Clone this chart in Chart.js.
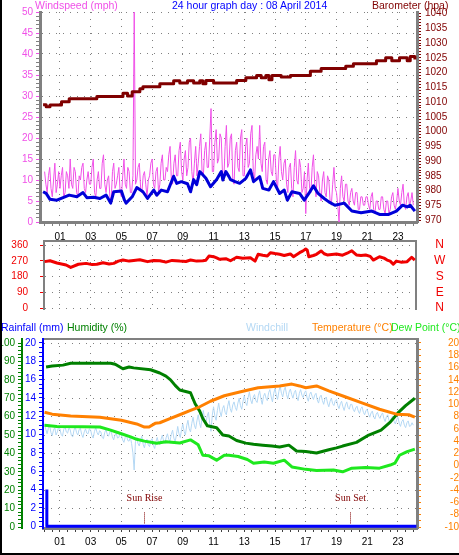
<!DOCTYPE html>
<html>
<head>
<meta charset="utf-8">
<script src="https://cdn.jsdelivr.net/npm/chart.js@4.4.1/dist/chart.umd.min.js"></script>
<style>
  html, body { margin: 0; padding: 0; background: #fff; }
  #page { position: relative; width: 459px; height: 555px; overflow: hidden; font-family: "Liberation Sans", Arial, sans-serif; }
  #page canvas { position: absolute; left: 0; }
  .ttl { position: absolute; font-size: 10.5px; line-height: 11px; white-space: nowrap; }
  #frame { position: absolute; left: 0; top: 0; width: 480px; height: 555px; border-left: 2px solid #000; border-bottom: 2px solid #000; box-sizing: border-box; pointer-events: none; }
</style>
</head>
<body>
<div id="page">
  <canvas id="wind" width="459" height="245" style="top:0"></canvas>
  <canvas id="dir" width="459" height="80" style="top:238px"></canvas>
  <canvas id="temp" width="459" height="237" style="top:318px"></canvas>

  <div class="ttl" style="left:35px;top:0;color:#f050e8">Windspeed (mph)</div>
  <div class="ttl" style="left:172px;top:0;color:#0000ff">24 hour graph day : 08 April 2014</div>
  <div class="ttl" style="left:372px;top:0;color:#800000">Barometer (hpa)</div>

  <div class="ttl" style="left:1px;top:322px;color:#0000ff">Rainfall (mm)</div>
  <div class="ttl" style="left:67px;top:322px;color:#008000">Humidity (%)</div>
  <div class="ttl" style="left:246px;top:322px;color:#b4d8f4">Windchill</div>
  <div class="ttl" style="left:312px;top:322px;color:#ff8000">Temperature (°C)</div>
  <div class="ttl" style="left:391px;top:322px;color:#1ee81e">Dew Point (°C)</div>
  <div id="frame"></div>
</div>
<script>
// ---- values (time in hours of the day) ----

// gusts and windchill, one reading every 5 minutes from 00:00 (one row per hour)
const gustMph = [
  12, 9, 7, 11, 13, 8, 6, 10, 14, 7, 9, 12,
  8, 11, 13, 6, 7, 12, 11, 8, 15, 9, 8, 13,
  12, 7, 6, 11, 10, 13, 14, 8, 7, 10, 12, 9,
  9, 13, 15, 7, 6, 10, 12, 8, 8, 14, 16, 9,
  7, 10, 11, 6, 5, 12, 14, 8, 9, 11, 13, 7,
  6, 11, 15, 9, 8, 13, 12, 7, 7, 11, 50, 9,
  10, 13, 14, 8, 7, 11, 12, 9, 6, 10, 11, 14,
  15, 9, 8, 12, 13, 7, 9, 14, 16, 10, 10, 13,
  12, 16, 18, 10, 9, 14, 16, 11, 11, 17, 19, 12,
  10, 15, 17, 11, 13, 19, 20, 12, 9, 14, 18, 11,
  14, 18, 21, 12, 11, 17, 19, 13, 13, 20, 27, 12,
  12, 19, 22, 14, 15, 21, 20, 11, 10, 18, 23, 13,
  14, 20, 21, 10, 9, 17, 19, 13, 12, 20, 22, 11,
  11, 18, 20, 13, 14, 21, 23, 12, 10, 16, 18, 15,
  23, 14, 12, 18, 19, 10, 9, 15, 17, 12, 11, 16,
  16, 10, 8, 15, 18, 12, 10, 14, 15, 9, 7, 13,
  14, 8, 6, 13, 17, 10, 9, 15, 13, 7, 8, 12,
  2, 10, 14, 8, 7, 13, 16, 9, 6, 12, 11, 7,
  5, 10, 12, 7, 6, 11, 10, 5, 4, 9, 13, 8,
  7, 4, 0, 8, 11, 6, 5, 9, 9, 5, 4, 7,
  8, 5, 4, 7, 7, 3, 3, 6, 6, 4, 4, 6,
  6, 4, 3, 6, 7, 3, 2, 5, 5, 3, 3, 6,
  6, 3, 2, 5, 5, 2, 3, 6, 7, 4, 3, 5,
  8, 5, 4, 7, 9, 4, 3, 6, 7, 4, 5, 7,
  4
];
const windchillC = [
  6.8, 5.9, 5.2, 6.1, 6.5, 5.4, 4.9, 5.8, 6.2, 5.0, 5.5, 6.3,
  6.0, 5.1, 4.8, 5.9, 6.4, 5.5, 5.3, 6.1, 5.9, 4.9, 4.7, 5.8,
  6.3, 5.4, 5.0, 5.9, 6.1, 5.1, 4.6, 5.5, 6.0, 5.3, 5.2, 6.0,
  5.8, 4.9, 4.5, 5.6, 6.2, 5.4, 5.0, 5.7, 5.5, 4.6, 4.4, 5.4,
  5.9, 5.1, 4.8, 5.5, 5.6, 4.7, 4.2, 5.0, 5.3, 4.5, 4.6, 5.3,
  5.0, 4.2, 3.8, 4.6, 4.9, 4.1, 4.0, 4.7, 3.6, 2.1, -0.7, 3.9,
  4.6, 3.6, 3.2, 4.2, 4.8, 3.5, 2.9, 3.9, 4.3, 3.4, 3.1, 4.1,
  4.4, 3.3, 2.8, 3.9, 4.6, 3.7, 3.4, 4.3, 5.0, 4.0, 3.6, 4.6,
  5.2, 4.3, 4.0, 5.1, 5.8, 4.5, 3.9, 5.0, 6.4, 5.2, 4.6, 5.9,
  6.8, 5.6, 5.0, 6.5, 7.4, 6.0, 5.5, 6.9, 7.9, 6.6, 6.0, 7.3,
  8.3, 7.0, 6.2, 7.8, 9.0, 7.5, 6.8, 8.1, 8.7, 6.9, 5.6, 8.2,
  9.6, 8.1, 7.4, 9.0, 10.2, 8.8, 8.0, 9.3, 9.8, 8.7, 8.3, 9.7,
  10.6, 9.3, 8.7, 9.9, 10.4, 9.5, 9.0, 10.2, 11.0, 9.8, 9.2, 10.5,
  11.4, 10.3, 9.8, 11.1, 12.0, 10.7, 10.1, 11.2, 11.6, 10.6, 10.3, 11.5,
  12.2, 10.9, 10.0, 11.3, 11.8, 11.0, 10.6, 11.9, 12.4, 11.2, 10.4, 11.8,
  12.6, 11.5, 10.8, 12.1, 13.0, 11.8, 11.2, 12.3, 12.8, 11.6, 10.9, 12.0,
  12.5, 11.6, 11.0, 11.9, 12.3, 11.2, 10.6, 11.8, 12.4, 11.5, 11.1, 11.9,
  12.2, 11.1, 10.5, 11.6, 12.0, 11.3, 10.8, 11.5, 11.8, 10.7, 10.2, 11.2,
  11.5, 10.6, 10.0, 10.9, 11.2, 10.2, 9.6, 10.5, 11.0, 10.1, 9.8, 10.6,
  10.8, 9.8, 9.3, 10.1, 10.5, 9.6, 9.0, 9.9, 10.4, 9.5, 9.2, 10.0,
  10.0, 9.2, 8.8, 9.4, 9.7, 8.9, 8.5, 9.3, 9.6, 8.7, 8.3, 9.0,
  9.2, 8.4, 7.9, 8.6, 8.9, 8.0, 7.6, 8.4, 8.7, 8.0, 7.7, 8.3,
  8.6, 7.7, 7.2, 8.0, 8.3, 7.4, 7.0, 7.8, 8.1, 7.2, 6.8, 7.5,
  7.9, 6.9, 6.4, 7.2, 7.5, 6.6, 6.2, 7.0, 7.3, 6.4, 6.5, 7.0,
  6.6
];

const avgHours = [-0.1, 0.1, 0.35, 0.8, 1.2, 1.6, 2.1, 2.5, 2.75, 3.2, 3.6, 4.0, 4.3, 4.5, 5.0, 5.2, 5.3, 5.7, 6.0, 6.4,
  6.7, 7.1, 7.3, 7.6, 8.0, 8.4, 8.6, 8.9, 9.3, 9.5, 9.7, 9.9, 10.1, 10.5, 10.8, 11.2, 11.5, 11.6, 11.8, 12.0,
  12.1, 12.4, 12.7, 13.1, 13.4, 13.6, 14.0, 14.2, 14.6, 14.9, 15.3, 15.6, 15.8, 16.1, 16.6, 16.9, 17.2, 17.5, 17.8, 18.2,
  18.5, 18.9, 19.5, 20.0, 20.6, 21.3, 21.8, 22.4, 22.9, 23.3, 23.6, 23.8, 24.1];
const avgMph = [7.2, 6.8, 5.4, 5.2, 5.8, 6.4, 6.0, 7.0, 5.8, 5.9, 5.6, 6.4, 4.5, 7.2, 7.4, 5.2, 4.5, 6.0, 8.2, 7.2,
  5.6, 7.6, 6.4, 7.6, 7.2, 10.9, 9.2, 9.6, 9.1, 7.2, 10.1, 8.9, 12.0, 10.4, 8.4, 10.1, 12.0, 10.0, 12.0, 10.8,
  10.1, 9.6, 9.2, 10.4, 12.4, 9.6, 10.8, 8.0, 7.6, 9.6, 6.8, 7.6, 5.2, 7.2, 6.8, 5.2, 6.8, 8.6, 6.8, 5.6,
  4.8, 4.0, 4.5, 2.6, 2.2, 2.6, 1.8, 1.8, 2.6, 4.0, 3.6, 4.0, 2.6];

const baroHours = [-0.1, 0.1, 0.35, 1.1, 1.6, 3.4, 5.1, 5.4, 5.7, 6.2, 6.4, 7.5, 8.4, 8.8, 9.3, 9.7, 10.1, 10.3, 10.5, 11.0,
  12.5, 13.1, 13.8, 14.1, 14.4, 14.6, 14.8, 15.4, 16.0, 17.3, 18.0, 19.6, 20.1, 21.6, 22.2, 22.6, 23.1, 23.6, 23.8, 24.1];
const baroHpa = [1009.1, 1008.4, 1009.0, 1010.1, 1011.1, 1011.9, 1013.0, 1012.1, 1013.5, 1014.5, 1015.2, 1016.2, 1017.2, 1016.5, 1017.2, 1016.5, 1017.2, 1016.2, 1017.3, 1016.5,
  1017.3, 1018.2, 1019.0, 1018.2, 1019.0, 1017.6, 1019.0, 1018.5, 1019.0, 1020.4, 1021.4, 1022.1, 1023.0, 1024.0, 1025.0, 1024.0, 1025.0, 1024.0, 1025.4, 1024.4];

const dirHours = [0, 0.35, 0.8, 1.4, 1.7, 2.2, 2.7, 3.1, 3.4, 3.8, 4.2, 4.5, 4.8, 5.1, 5.5, 5.8, 6.2, 6.7, 7.1, 7.5,
  7.9, 8.3, 8.8, 9.2, 9.5, 9.9, 10.3, 10.5, 10.7, 11.0, 11.2, 11.4, 11.8, 12.1, 12.5, 12.9, 13.4, 13.7, 13.9, 14.2,
  14.5, 14.7, 15.0, 15.3, 15.6, 16.0, 16.2, 16.6, 16.8, 17.0, 17.1, 17.2, 17.5, 17.7, 18.0, 18.2, 18.4, 18.7, 19.0, 19.4,
  19.7, 20.0, 20.3, 20.6, 20.9, 21.2, 21.4, 21.8, 22.1, 22.3, 22.5, 22.7, 22.9, 23.2, 23.6, 23.9, 24.1];
const dirDeg = [265, 270, 257, 246, 232, 250, 255, 248, 250, 259, 252, 255, 268, 274, 268, 272, 276, 265, 272, 270,
  262, 272, 268, 266, 274, 268, 270, 273, 297, 293, 286, 278, 282, 270, 290, 284, 287, 268, 307, 301,
  297, 316, 311, 307, 300, 309, 293, 316, 325, 337, 330, 293, 300, 307, 326, 310, 303, 306, 309, 302,
  313, 327, 303, 300, 303, 295, 274, 293, 285, 274, 268, 250, 268, 262, 265, 290, 274];

const humHours = [0.1, 0.5, 1.2, 1.7, 4.3, 4.6, 5.1, 5.5, 5.8, 6.9, 7.5, 7.9, 8.2, 8.5, 8.8, 9.5, 9.8, 10.1, 10.3, 10.6,
  11.2, 11.6, 12.0, 12.5, 13.1, 13.6, 14.2, 14.8, 15.3, 15.9, 16.4, 17.0, 17.7, 18.5, 19.0, 19.4, 20.3, 21.1, 21.9, 22.5,
  23.0, 23.5, 24.1];
const humPct = [87, 87.5, 88, 89, 89, 88.5, 86, 87, 86.5, 85.5, 83.7, 82, 80, 77, 74.5, 73, 67, 63, 59, 55,
  54, 50, 49.5, 47, 45.6, 45, 44.5, 44, 43.5, 44.5, 41.3, 41, 40.2, 42, 43, 44, 46, 50, 52.7, 57,
  62, 66, 70];

const tempHours = [0, 0.5, 1.7, 3.6, 5.0, 6.0, 6.5, 6.8, 7.2, 7.5, 8.2, 8.8, 9.5, 10.1, 10.8, 11.7, 12.7, 13.9, 15.3, 16.1,
  16.6, 17.0, 17.7, 18.5, 19.6, 20.7, 21.8, 22.9, 23.7, 24.1];
const tempC = [8.7, 8.4, 8.1, 7.9, 7.4, 6.8, 6.3, 6.3, 6.9, 7.0, 7.7, 8.3, 9.0, 9.6, 10.5, 11.4, 12.0, 12.7, 13.0, 13.3,
  13.0, 12.7, 13.0, 12.2, 11.2, 10.2, 9.2, 8.4, 8.3, 7.9];

const dewHours = [0, 0.8, 2.5, 3.6, 4.3, 5.0, 5.6, 6.0, 6.5, 7.3, 7.9, 8.8, 9.5, 9.7, 10.0, 10.3, 10.7, 11.2, 11.7, 12.0,
  12.6, 13.2, 13.6, 14.3, 14.9, 15.6, 16.1, 17.0, 17.7, 18.8, 19.4, 20.0, 20.9, 21.8, 22.5, 22.8, 23.1, 23.6, 24.1];
const dewC = [6.6, 6.4, 6.35, 6.3, 5.8, 5.2, 4.7, 4.3, 4.0, 3.65, 3.9, 3.7, 4.2, 3.9, 3.4, 1.7, 1.6, 0.9, 1.7, 1.7,
  1.5, 1.0, 0.4, 0.6, 0.4, 0.9, -0.2, -0.6, -0.8, -0.7, -1.0, -0.4, -0.3, -0.4, 0.1, 0.4, 1.7, 2.3, 2.7];

// rain: 4 mm logged just after midnight, nothing after (drawn as a step)
const rainHours = [0.15, 6, 12, 18, 24.2];
const rainMm = [4, 0, 0, 0, 0];

const sunHours = [6.47, 19.88];
const sunLabels = ['Sun Rise', 'Sun Set'];

// axis labels
const windMajor = [0, 5, 10, 15, 20, 25, 30, 35, 40, 45, 50];
const baroMajor = [970, 975, 980, 985, 990, 995, 1000, 1005, 1010, 1015, 1020, 1025, 1030, 1035, 1040];
const dirMajor = [0, 90, 180, 270, 360];
const compass = ['N', 'E', 'S', 'W', 'N'];
const humMajor = [0, 10, 20, 30, 40, 50, 60, 70, 80, 90, 100];
const rainMajor = [0, 2, 4, 6, 8, 10, 12, 14, 16, 18, 20];
const tempMajor = [-10, -8, -6, -4, -2, 0, 2, 4, 6, 8, 10, 12, 14, 16, 18, 20];

// ---- helpers ----
const GRID = '#808080';
const DOTS = [1, 6];
const NONE = 'rgba(0,0,0,0)';
const FONT = { family: '"Liberation Sans", Arial, sans-serif', size: 10 };

const pts = (xs, ys) => xs.map((x, i) => ({ x, y: ys[i] }));
const fiveMin = gustMph.map((_, i) => i / 12);

function steps(a, b, st) {
  const out = [];
  for (let v = a; v <= b + 1e-9; v += st) out.push(Math.round(v * 100) / 100);
  return out;
}

function xAxis(min, max, labels, height, pad, tickColor) {
  return {
    type: 'linear', position: 'bottom', min, max,
    afterBuildTicks: s => { s.ticks = steps(0, 24, 0.5).map(value => ({ value })); },
    afterFit: s => { s.height = height; s.paddingLeft = 0; s.paddingRight = 0; },
    ticks: {
      display: labels, autoSkip: false, maxRotation: 0, padding: pad, color: '#000', font: FONT,
      callback: v => (v % 2 === 1 ? String(v).padStart(2, '0') : '')
    },
    grid: {
      color: c => (c.tick && c.tick.value % 2 === 1 ? GRID : NONE),
      drawTicks: labels, tickLength: 4, tickColor: tickColor || GRID
    },
    border: { display: labels, color: GRID, width: 3, dash: DOTS, z: -1 }
  };
}

// thin axis used only to draw the top edge of a panel
function frameAxis(min, max) {
  return {
    type: 'linear', position: 'top', min, max,
    afterFit: s => { s.height = 0; s.paddingLeft = 0; s.paddingRight = 0; },
    ticks: { display: false },
    grid: { display: false, drawTicks: false },
    border: { color: GRID, width: 2 }
  };
}

function yAxis(o) {
  const isMajor = v => o.major.includes(v);
  return {
    type: 'linear', position: o.pos, min: o.min, max: o.max, weight: o.weight || 0,
    afterBuildTicks: s => { s.ticks = steps(o.from, o.to, o.minor).map(value => ({ value })); },
    afterFit: s => { s.width = o.width; s.paddingTop = 0; s.paddingBottom = 0; },
    ticks: {
      autoSkip: false, padding: o.pad, color: o.color, crossAlign: o.align || 'near',
      font: Object.assign({}, FONT, { size: o.size || 10 }),
      callback: v => (isMajor(v) ? (o.names ? o.names[o.major.indexOf(v)] : String(v)) : '')
    },
    grid: {
      drawOnChartArea: !!o.grid, drawTicks: o.ticks !== false, tickLength: 4,
      color: c => (o.grid && c.tick && isMajor(c.tick.value) ? GRID : NONE),
      tickColor: c => (c.tick && isMajor(c.tick.value) ? o.color : o.minorColor)
    },
    border: { color: o.border, width: o.bw, dash: DOTS }
  };
}

const common = {
  responsive: false,
  animation: false,
  events: [],
  plugins: { legend: { display: false }, tooltip: { enabled: false } },
  elements: { point: { radius: 0 }, line: { tension: 0, borderJoinStyle: 'round' } }
};

// Sun rise / sun set markers on the bottom panel (drawn under the data lines)
const sunMarks = {
  id: 'sunMarks',
  beforeDatasetsDraw(chart) {
    const { ctx, scales: { x, rain } } = chart;
    ctx.save();
    ctx.strokeStyle = '#800000';
    ctx.fillStyle = '#800000';
    ctx.lineWidth = 1;
    ctx.setLineDash([1, 1]);
    ctx.font = '10px "Liberation Serif", serif';
    ctx.textAlign = 'center';
    sunHours.forEach((h, i) => {
      const px = Math.round(x.getPixelForValue(h)) + 0.5;
      ctx.beginPath();
      ctx.moveTo(px, rain.getPixelForValue(1.5));
      ctx.lineTo(px, rain.getPixelForValue(0.2));
      ctx.stroke();
      ctx.fillText(sunLabels[i], px, rain.getPixelForValue(2.7));
    });
    ctx.setLineDash([]);
    ctx.restore();
  }
};

// ---- wind speed + barometer ----
new Chart(document.getElementById('wind'), {
  type: 'line',
  data: {
    datasets: [
      { data: pts(baroHours, baroHpa), yAxisID: 'baro', borderColor: '#800000', borderWidth: 3, stepped: true, order: 0 },
      { data: pts(avgHours, avgMph), yAxisID: 'ws', borderColor: '#0000d8', borderWidth: 3, order: 1 },
      { data: pts(fiveMin, gustMph), yAxisID: 'ws', borderColor: '#f050e8', borderWidth: 1, order: 2 }
    ]
  },
  options: Object.assign({}, common, {
    layout: { padding: { top: 12 } },
    scales: {
      x: xAxis(-0.3, 24.24, true, 23, 5, GRID),
      ws: yAxis({ pos: 'left', min: 0, max: 50, from: 0, to: 50, minor: 1, major: windMajor, width: 40, pad: 3,
        color: '#f050e8', minorColor: GRID, border: GRID, bw: 3, grid: true }),
      baro: yAxis({ pos: 'right', min: 969.4, max: 1040.5, from: 970, to: 1040, minor: 1, major: baroMajor, width: 42, pad: 4,
        color: '#800000', minorColor: '#800000', border: GRID, bw: 3 })
    }
  })
});

// ---- wind direction ----
new Chart(document.getElementById('dir'), {
  type: 'line',
  data: {
    datasets: [
      { data: pts(dirHours, dirDeg), yAxisID: 'dir', borderColor: '#f00000', borderWidth: 3 }
    ]
  },
  options: Object.assign({}, common, {
    layout: { padding: { top: 3 } },
    scales: {
      x: xAxis(-0.04, 24.18, false, 9, 0),
      top: frameAxis(-0.04, 24.18),
      dir: yAxis({ pos: 'left', min: -5.7, max: 382.9, from: 0, to: 360, minor: 90, major: dirMajor, width: 44, pad: 12,
        color: '#f00000', minorColor: '#f00000', border: GRID, bw: 2, grid: true }),
      compass: yAxis({ pos: 'right', min: -5.7, max: 382.9, from: 0, to: 360, minor: 90, major: dirMajor, names: compass,
        width: 43, pad: 18, size: 12, align: 'center', ticks: false,
        color: '#f00000', minorColor: '#f00000', border: GRID, bw: 2 })
    }
  })
});

// ---- rain, humidity, temperatures ----
new Chart(document.getElementById('temp'), {
  type: 'line',
  data: {
    datasets: [
      { data: pts(rainHours, rainMm), yAxisID: 'rain', borderColor: '#0000ff', borderWidth: 3, stepped: 'after', order: -1, clip: false },
      { data: pts(tempHours, tempC), yAxisID: 'temp', borderColor: '#ff8000', borderWidth: 3, order: 0 },
      { data: pts(humHours, humPct), yAxisID: 'hum', borderColor: '#008000', borderWidth: 3, order: 1 },
      { data: pts(dewHours, dewC), yAxisID: 'temp', borderColor: '#1ee81e', borderWidth: 3, order: 2 },
      { data: pts(fiveMin, windchillC), yAxisID: 'temp', borderColor: '#b4d8f4', borderWidth: 1, order: 3 }
    ]
  },
  options: Object.assign({}, common, {
    layout: { padding: { top: 21 } },
    scales: {
      x: xAxis(-0.1, 24.24, true, 27, 4, '#404040'),
      top: frameAxis(-0.1, 24.24),
      hum: yAxis({ pos: 'left', weight: 2, min: -0.54, max: 102.2, from: 0, to: 100, minor: 2, major: humMajor, width: 22, pad: 3,
        color: '#008000', minorColor: '#008000', border: '#008000', bw: 2, grid: true }),
      rain: yAxis({ pos: 'left', weight: 1, min: -0.2, max: 20.43, from: 0, to: 20, minor: 0.5, major: rainMajor, width: 21, pad: 3,
        color: '#0000ff', minorColor: '#0000ff', border: '#0000ff', bw: 2 }),
      temp: yAxis({ pos: 'right', min: -10.16, max: 20.65, from: -10, to: 20, minor: 1, major: tempMajor, width: 42, pad: 0, align: 'far',
        color: '#ff8000', minorColor: '#ff8000', border: GRID, bw: 3 })
    }
  }),
  plugins: [sunMarks]
});
</script>
</body>
</html>
